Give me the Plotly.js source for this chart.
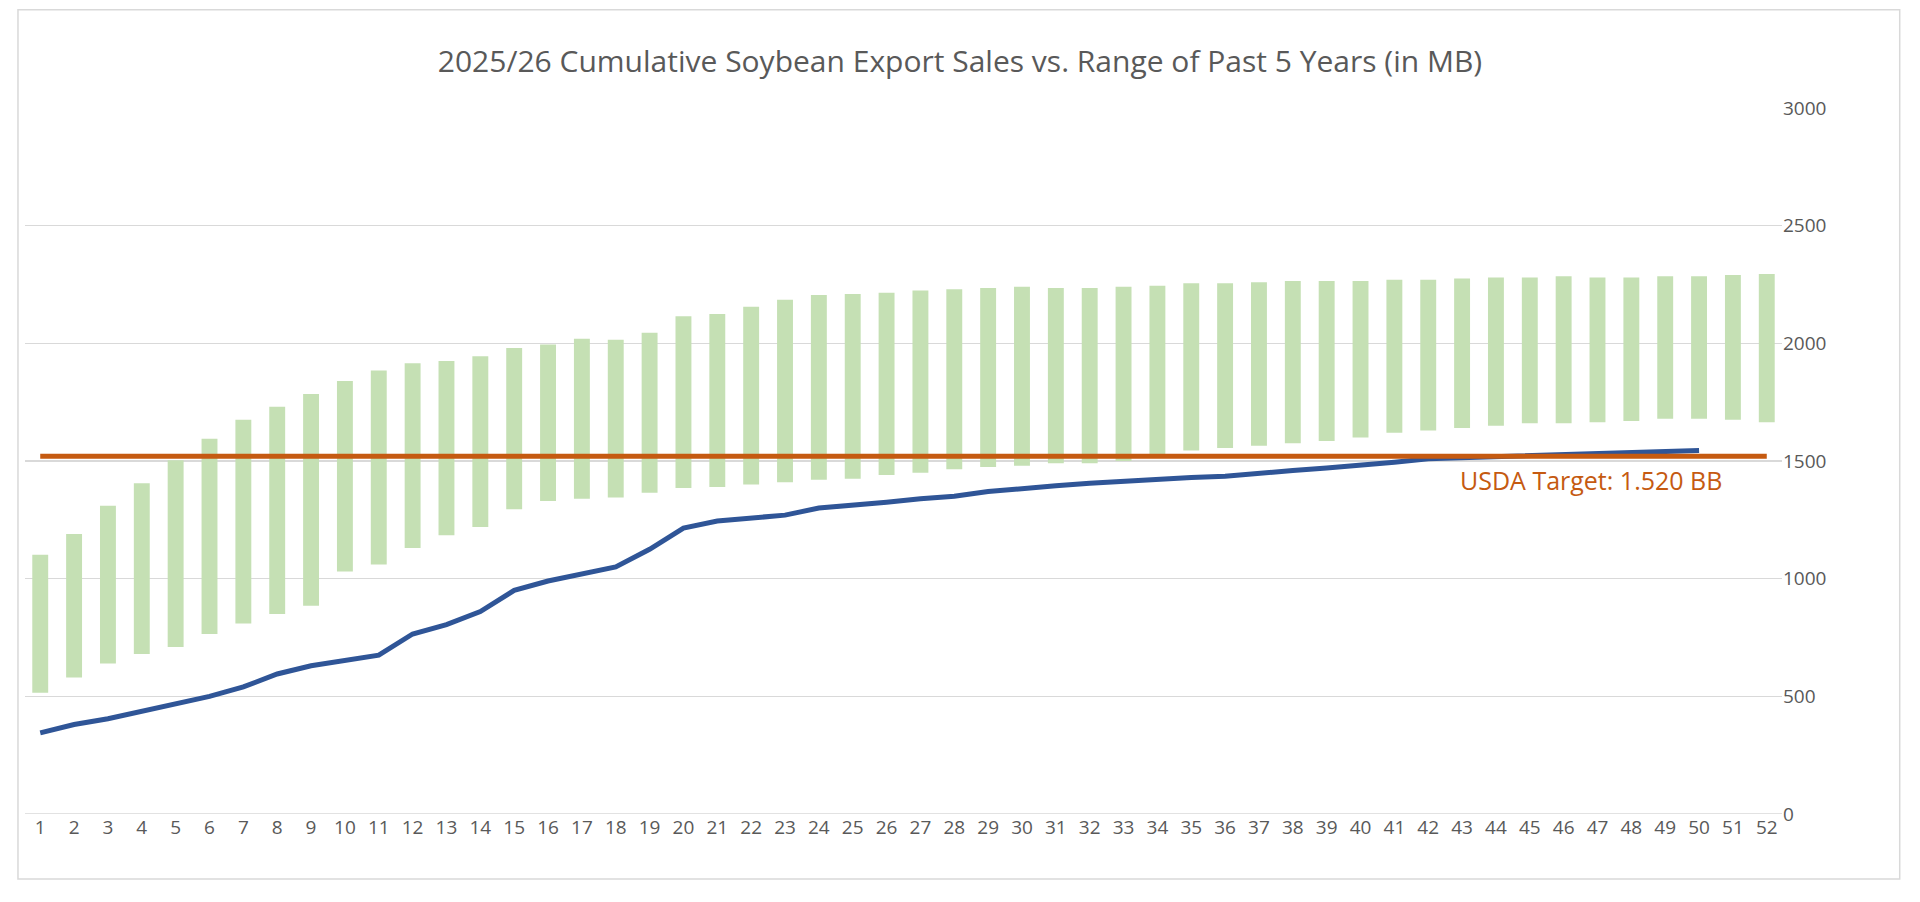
<!DOCTYPE html>
<html><head><meta charset="utf-8">
<script src="https://cdn.plot.ly/plotly-3.0.1.min.js"></script>
<style>body{margin:0;background:#fff}#c{width:1920px;height:902px}</style>
</head><body><div id="c"></div>
<script>
const weeks = Array.from({length:52},(_,i)=>i+1);
const rangeLow = [515,580,640,680,710,765,810,850,885,1030,1060,1130,1185,1220,1295,1330,1340,1345,1365,1385,1390,1400,1410,1420,1425,1440,1450,1465,1475,1480,1490,1490,1500,1520,1545,1555,1565,1575,1585,1600,1620,1630,1640,1650,1660,1660,1665,1670,1680,1680,1675,1665];
const rangeHigh = [1102,1190,1310,1405,1503,1595,1675,1730,1785,1840,1885,1915,1925,1945,1980,1995,2020,2015,2045,2115,2125,2155,2185,2205,2210,2215,2225,2230,2235,2240,2235,2235,2240,2245,2255,2255,2260,2265,2265,2265,2270,2270,2275,2280,2280,2285,2280,2280,2285,2285,2290,2295];
const sales2526 = [345,380,405,435,470,500,540,595,630,650,675,765,805,860,950,990,1020,1050,1125,1215,1245,1260,1270,1300,1310,1325,1340,1350,1370,1385,1395,1405,1415,1425,1430,1435,1450,1460,1470,1480,1495,1510,1515,1520,1520,1525,1535,1540,1540,1545];
const usdaTarget = 1520;
const targetLabel = "USDA Target: 1.520 BB";

const font = "Open Sans, Noto Sans, sans-serif";
const traces = [
 {type:'bar', x:weeks, base:rangeLow, y:rangeHigh.map((h,i)=>h-rangeLow[i]), marker:{color:'#C5E0B4'}, width:0.47, hoverinfo:'skip'},
 {type:'scatter', mode:'lines', x:weeks.slice(0,sales2526.length), y:sales2526, line:{color:'#2F5597', width:5}},
 {type:'scatter', mode:'lines', x:[1,52], y:[usdaTarget,usdaTarget], line:{color:'#C55A11', width:5}}
];
const layout = {
 width:1920, height:902, showlegend:false, paper_bgcolor:'#fff', plot_bgcolor:'#fff',
 margin:{l:25, r:138, t:108, b:88},
 title:{text:"2025/26 Cumulative Soybean Export Sales vs. Range of Past 5 Years (in MB)", x:0.5, xanchor:'center', y:0.932, yanchor:'middle', font:{family:font, size:30, color:'#595959'}},
 xaxis:{range:[0.55,52.45], tickmode:'array', tickvals:weeks, ticktext:weeks.map(String), showgrid:false, zeroline:false, showline:false, ticks:'', tickfont:{family:font, size:19, color:'#595959'}},
 yaxis:{side:'right', range:[0,3000], dtick:500, gridcolor:'#D9D9D9', gridwidth:1.5, zeroline:false, showline:false, ticks:'', tickfont:{family:font, size:19, color:'#595959'}},
 annotations:[{x:46.8, y:1420, xref:'x', yref:'y', text:targetLabel, showarrow:false, font:{family:font, size:25, color:'#C55A11'}}],
 shapes:[
  {type:'line', xref:'paper', yref:'y', x0:0, x1:1, y0:0, y1:0, line:{color:'#D9D9D9', width:1.5}, layer:'below'},
  {type:'rect', xref:'paper', yref:'paper', x0:-0.004, x1:1.067, y0:-0.092, y1:1.139, line:{color:'#D9D9D9', width:1.5}}
 ]
};
Plotly.newPlot('c', traces, layout, {displayModeBar:false, staticPlot:true});
</script></body></html>
